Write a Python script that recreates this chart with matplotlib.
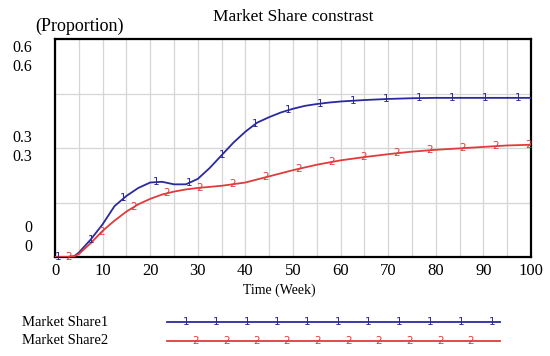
import numpy as np
import matplotlib
matplotlib.use("Agg")
import matplotlib.pyplot as plt

# ---- data ----
t1 = [0, 2.5, 4, 5, 7.5, 10, 12.5, 15, 17.5, 20, 22.5, 25, 27.5, 30, 32.5, 35, 37.5,
      40, 42.5, 45, 47.5, 50, 52.5, 55, 57.5, 60, 65, 70, 75, 80, 90, 100]
share1 = [0, 0, 0.002, 0.012, 0.048, 0.09, 0.14, 0.168, 0.19, 0.205, 0.207, 0.2, 0.2,
          0.215, 0.245, 0.28, 0.315, 0.345, 0.37, 0.385, 0.398, 0.408, 0.416, 0.421,
          0.425, 0.428, 0.432, 0.435, 0.437, 0.438, 0.438, 0.438]
t2 = [0, 2.5, 4, 5, 7.5, 10, 12.5, 15, 17.5, 20, 22.5, 25, 27.5, 30, 35, 40, 45, 50,
      55, 60, 65, 70, 75, 80, 85, 90, 95, 100]
share2 = [0, 0, 0.002, 0.008, 0.038, 0.072, 0.1, 0.125, 0.145, 0.16, 0.172, 0.18, 0.186,
          0.19, 0.196, 0.205, 0.222, 0.239, 0.254, 0.266, 0.275, 0.283, 0.29, 0.295,
          0.299, 0.303, 0.307, 0.309]
series_names = ["Market Share1", "Market Share2"]
marker_labels = ["1", "2"]
x_ticks = [0, 10, 20, 30, 40, 50, 60, 70, 80, 90, 100]
y_labels = ["0.6", "0.3", "0"]

blue = "#2a2a9c"
red = "#e23a3a"
serif = "Liberation Serif"

W, H = 550, 356
fig = plt.figure(figsize=(W / 100, H / 100), dpi=100)
L, R, T, B = 55, 531, 39, 257
ax = fig.add_axes([L / W, 1 - B / H, (R - L) / W, (B - T) / H])
ax.set_xlim(0, 100)
ax.set_ylim(0, 0.6)

ax.set_xticks(np.arange(0, 101, 5), minor=False)
ax.set_yticks(np.arange(0, 0.61, 0.15))
ax.grid(True, color="#d6d6d6", linewidth=0.9)
ax.set_axisbelow(True)
ax.tick_params(length=0, labelleft=False, labelbottom=False)
for s in ax.spines.values():
    s.set_linewidth(1.6)
    s.set_color("black")

ax.plot(t1, share1, color=blue, linewidth=1.3, zorder=3)
ax.plot(t2, share2, color=red, linewidth=1.3, zorder=3)

# series labels placed along the curves
step = 6.9
for tt, vv, col, lab, start in [(t1, share1, blue, "1", 0.6), (t2, share2, red, "2", 2.8)]:
    xs = np.arange(start, 100, step)
    ys = np.interp(xs, tt, vv)
    for x, y in zip(xs, ys):
        ax.text(x, y, lab, color=col, fontsize=7.5, ha="center", va="center",
                family="DejaVu Sans", zorder=4, clip_on=False)

# x tick labels
for xv in x_ticks:
    fig.text((L + (R - L) * xv / 100) / W, 1 - 271 / H, str(xv), ha="center",
             va="center", fontsize=12, family=serif)

# y tick labels (Vensim-style double labels)
for lab, ys in zip(y_labels, [(48, 67), (138, 157), (228, 247)]):
    for yy in ys:
        fig.text(32 / W, 1 - yy / H, lab, ha="right", va="center", fontsize=11.5,
                 family=serif)

fig.text(293 / W, 1 - 17 / H, "Market Share constrast", ha="center", va="center",
         fontsize=12.5, family=serif)
fig.text(79 / W, 1 - 26 / H, "(Proportion)", ha="center", va="center",
         fontsize=13, family=serif)
fig.text(279 / W, 1 - 290 / H, "Time (Week)", ha="center", va="center",
         fontsize=10, family=serif)

# legend
leg_y = [322, 341]
cols = [blue, red]
mark_x = [[186, 216, 247, 277, 307, 338, 368, 399, 430, 461, 492],
          [196, 227, 257, 287, 318, 349, 379, 410, 441, 471]]
for name, yy, col, lab, mx in zip(series_names, leg_y, cols, marker_labels, mark_x):
    fig.text(22 / W, 1 - yy / H, name, ha="left", va="center", fontsize=10.5,
             family=serif)
    fig.add_artist(plt.Line2D([167 / W, 500 / W], [1 - yy / H, 1 - yy / H],
                              color=col, linewidth=1.3))
    for x in mx:
        fig.text(x / W, 1 - yy / H, lab, ha="center", va="center", color=col,
                 fontsize=7.5, family="DejaVu Sans")

fig.savefig("out.png", dpi=100)
